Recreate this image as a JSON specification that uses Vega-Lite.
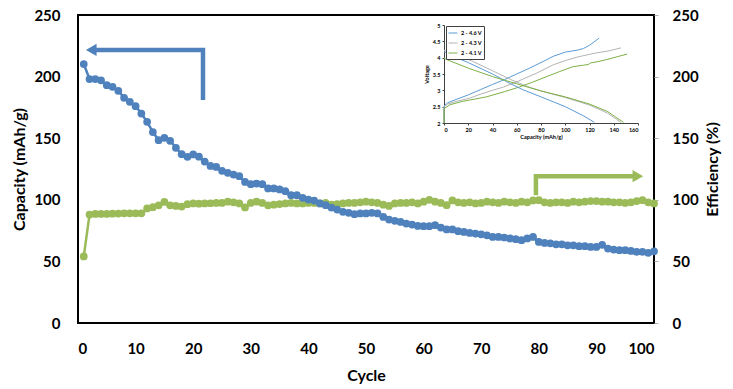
{
  "$schema": "https://vega.github.io/schema/vega-lite/v6.json",
  "width": 576,
  "height": 308,
  "autosize": {"type": "none"},
  "padding": {"left": 78, "top": 15, "right": 79, "bottom": 66},
  "background": "white",
  "config": {
    "view": {"stroke": "black", "strokeWidth": 2},
    "font": "Lato",
    "axis": {"grid": false, "labelColor": "black", "titleColor": "black", "labelFont": "Lato", "titleFont": "Lato", "labelFontWeight": "bold", "titleFontWeight": "bold"}
  },
  "datasets": {
    "cycling": [
      {"cycle": 1, "capacity": 210.2, "efficiency": 54},
      {"cycle": 2, "capacity": 198, "efficiency": 88},
      {"cycle": 3, "capacity": 198, "efficiency": 88.5},
      {"cycle": 4, "capacity": 197, "efficiency": 88.5},
      {"cycle": 5, "capacity": 193, "efficiency": 88.5},
      {"cycle": 6, "capacity": 191.7, "efficiency": 88.7},
      {"cycle": 7, "capacity": 188.5, "efficiency": 88.8},
      {"cycle": 8, "capacity": 182.8, "efficiency": 89},
      {"cycle": 9, "capacity": 179.5, "efficiency": 89},
      {"cycle": 10, "capacity": 176, "efficiency": 89},
      {"cycle": 11, "capacity": 170, "efficiency": 89},
      {"cycle": 12, "capacity": 163.3, "efficiency": 93},
      {"cycle": 13, "capacity": 155, "efficiency": 94},
      {"cycle": 14, "capacity": 148.4, "efficiency": 95.5},
      {"cycle": 15, "capacity": 150.3, "efficiency": 98.3},
      {"cycle": 16, "capacity": 147.9, "efficiency": 95.5},
      {"cycle": 17, "capacity": 142.2, "efficiency": 95},
      {"cycle": 18, "capacity": 137, "efficiency": 94.5},
      {"cycle": 19, "capacity": 134.9, "efficiency": 96.4},
      {"cycle": 20, "capacity": 136.8, "efficiency": 97},
      {"cycle": 21, "capacity": 135, "efficiency": 96.8},
      {"cycle": 22, "capacity": 131, "efficiency": 97},
      {"cycle": 23, "capacity": 127.5, "efficiency": 97.2},
      {"cycle": 24, "capacity": 126.7, "efficiency": 97.5},
      {"cycle": 25, "capacity": 123.5, "efficiency": 97.5},
      {"cycle": 26, "capacity": 121.9, "efficiency": 98.5},
      {"cycle": 27, "capacity": 120.5, "efficiency": 98},
      {"cycle": 28, "capacity": 119.2, "efficiency": 97},
      {"cycle": 29, "capacity": 114.5, "efficiency": 93.8},
      {"cycle": 30, "capacity": 112.7, "efficiency": 97.5},
      {"cycle": 31, "capacity": 113.2, "efficiency": 98.5},
      {"cycle": 32, "capacity": 112.7, "efficiency": 97.5},
      {"cycle": 33, "capacity": 109.2, "efficiency": 95.5},
      {"cycle": 34, "capacity": 109.2, "efficiency": 96},
      {"cycle": 35, "capacity": 108.4, "efficiency": 96.5},
      {"cycle": 36, "capacity": 107, "efficiency": 97},
      {"cycle": 37, "capacity": 103.7, "efficiency": 97.5},
      {"cycle": 38, "capacity": 103.7, "efficiency": 97},
      {"cycle": 39, "capacity": 101.6, "efficiency": 97},
      {"cycle": 40, "capacity": 100.2, "efficiency": 97.5},
      {"cycle": 41, "capacity": 99.4, "efficiency": 97.5},
      {"cycle": 42, "capacity": 97, "efficiency": 97},
      {"cycle": 43, "capacity": 95.6, "efficiency": 97.5},
      {"cycle": 44, "capacity": 93.7, "efficiency": 96},
      {"cycle": 45, "capacity": 92.1, "efficiency": 96.5},
      {"cycle": 46, "capacity": 90.2, "efficiency": 97},
      {"cycle": 47, "capacity": 89.4, "efficiency": 97.5},
      {"cycle": 48, "capacity": 88.3, "efficiency": 97.5},
      {"cycle": 49, "capacity": 88.9, "efficiency": 98},
      {"cycle": 50, "capacity": 88.9, "efficiency": 98.5},
      {"cycle": 51, "capacity": 89.4, "efficiency": 98},
      {"cycle": 52, "capacity": 88.9, "efficiency": 97.5},
      {"cycle": 53, "capacity": 86.1, "efficiency": 96},
      {"cycle": 54, "capacity": 84, "efficiency": 95},
      {"cycle": 55, "capacity": 82.9, "efficiency": 97},
      {"cycle": 56, "capacity": 82, "efficiency": 97.5},
      {"cycle": 57, "capacity": 80.7, "efficiency": 97.5},
      {"cycle": 58, "capacity": 79.9, "efficiency": 98},
      {"cycle": 59, "capacity": 78.8, "efficiency": 97},
      {"cycle": 60, "capacity": 78.6, "efficiency": 98.5},
      {"cycle": 61, "capacity": 78.6, "efficiency": 100},
      {"cycle": 62, "capacity": 79.4, "efficiency": 98.5},
      {"cycle": 63, "capacity": 77.5, "efficiency": 97.5},
      {"cycle": 64, "capacity": 75.9, "efficiency": 95.6},
      {"cycle": 65, "capacity": 75.9, "efficiency": 99.5},
      {"cycle": 66, "capacity": 74.5, "efficiency": 98},
      {"cycle": 67, "capacity": 73.9, "efficiency": 97.5},
      {"cycle": 68, "capacity": 73.1, "efficiency": 98},
      {"cycle": 69, "capacity": 72.6, "efficiency": 97},
      {"cycle": 70, "capacity": 72, "efficiency": 97.5},
      {"cycle": 71, "capacity": 71.2, "efficiency": 98.5},
      {"cycle": 72, "capacity": 69.9, "efficiency": 98},
      {"cycle": 73, "capacity": 69.9, "efficiency": 97.5},
      {"cycle": 74, "capacity": 69.4, "efficiency": 98.5},
      {"cycle": 75, "capacity": 68.6, "efficiency": 98},
      {"cycle": 76, "capacity": 68, "efficiency": 97.5},
      {"cycle": 77, "capacity": 67.2, "efficiency": 98.5},
      {"cycle": 78, "capacity": 68.6, "efficiency": 98},
      {"cycle": 79, "capacity": 69.9, "efficiency": 99.5},
      {"cycle": 80, "capacity": 65.8, "efficiency": 99.7},
      {"cycle": 81, "capacity": 65, "efficiency": 98},
      {"cycle": 82, "capacity": 64.7, "efficiency": 97.5},
      {"cycle": 83, "capacity": 63.9, "efficiency": 98},
      {"cycle": 84, "capacity": 63.9, "efficiency": 98},
      {"cycle": 85, "capacity": 63.1, "efficiency": 97.5},
      {"cycle": 86, "capacity": 63.1, "efficiency": 98.5},
      {"cycle": 87, "capacity": 62.3, "efficiency": 98},
      {"cycle": 88, "capacity": 62.3, "efficiency": 98.5},
      {"cycle": 89, "capacity": 61.7, "efficiency": 99},
      {"cycle": 90, "capacity": 61.7, "efficiency": 99},
      {"cycle": 91, "capacity": 63.5, "efficiency": 98.5},
      {"cycle": 92, "capacity": 60.4, "efficiency": 98.5},
      {"cycle": 93, "capacity": 59.6, "efficiency": 98},
      {"cycle": 94, "capacity": 59.1, "efficiency": 98},
      {"cycle": 95, "capacity": 59.1, "efficiency": 97.5},
      {"cycle": 96, "capacity": 58.5, "efficiency": 98},
      {"cycle": 97, "capacity": 57.7, "efficiency": 99},
      {"cycle": 98, "capacity": 57.7, "efficiency": 99.7},
      {"cycle": 99, "capacity": 56.9, "efficiency": 98},
      {"cycle": 100, "capacity": 58.2, "efficiency": 97}
    ],
    "arrows": [
      {"arrow": "capacity", "step": 1, "cycle": 21.7, "value": 181},
      {"arrow": "capacity", "step": 2, "cycle": 21.7, "value": 221.6},
      {"arrow": "capacity", "step": 3, "cycle": 2.4, "value": 221.6},
      {"arrow": "efficiency", "step": 1, "cycle": 79.5, "value": 103.7},
      {"arrow": "efficiency", "step": 2, "cycle": 79.5, "value": 119.2},
      {"arrow": "efficiency", "step": 3, "cycle": 97.1, "value": 119.2}
    ],
    "heads": [
      {"arrow": "capacity", "cycle": 2.3, "value": 221.6, "shape": "triangle-left"},
      {"arrow": "efficiency", "cycle": 97.2, "value": 119.2, "shape": "triangle-right"}
    ],
    "voltage": [
      {"curve": "c46", "cutoff": "2 - 4.6 V", "step": 0, "cap": 0, "v": 2.0},
      {"curve": "c46", "cutoff": "2 - 4.6 V", "step": 1, "cap": 0, "v": 2.52},
      {"curve": "c46", "cutoff": "2 - 4.6 V", "step": 2, "cap": 3, "v": 2.62},
      {"curve": "c46", "cutoff": "2 - 4.6 V", "step": 3, "cap": 10, "v": 2.72},
      {"curve": "c46", "cutoff": "2 - 4.6 V", "step": 4, "cap": 20, "v": 2.86},
      {"curve": "c46", "cutoff": "2 - 4.6 V", "step": 5, "cap": 30, "v": 3.02},
      {"curve": "c46", "cutoff": "2 - 4.6 V", "step": 6, "cap": 40, "v": 3.18},
      {"curve": "c46", "cutoff": "2 - 4.6 V", "step": 7, "cap": 50, "v": 3.33},
      {"curve": "c46", "cutoff": "2 - 4.6 V", "step": 8, "cap": 60, "v": 3.5},
      {"curve": "c46", "cutoff": "2 - 4.6 V", "step": 9, "cap": 70, "v": 3.67},
      {"curve": "c46", "cutoff": "2 - 4.6 V", "step": 10, "cap": 80, "v": 3.85},
      {"curve": "c46", "cutoff": "2 - 4.6 V", "step": 11, "cap": 90, "v": 4.04},
      {"curve": "c46", "cutoff": "2 - 4.6 V", "step": 12, "cap": 100, "v": 4.17},
      {"curve": "c46", "cutoff": "2 - 4.6 V", "step": 13, "cap": 110, "v": 4.23},
      {"curve": "c46", "cutoff": "2 - 4.6 V", "step": 14, "cap": 115, "v": 4.28},
      {"curve": "c46", "cutoff": "2 - 4.6 V", "step": 15, "cap": 120, "v": 4.38},
      {"curve": "c46", "cutoff": "2 - 4.6 V", "step": 16, "cap": 128, "v": 4.6},
      {"curve": "c43", "cutoff": "2 - 4.3 V", "step": 0, "cap": 0, "v": 2.0},
      {"curve": "c43", "cutoff": "2 - 4.3 V", "step": 1, "cap": 0, "v": 2.49},
      {"curve": "c43", "cutoff": "2 - 4.3 V", "step": 2, "cap": 3, "v": 2.58},
      {"curve": "c43", "cutoff": "2 - 4.3 V", "step": 3, "cap": 10, "v": 2.66},
      {"curve": "c43", "cutoff": "2 - 4.3 V", "step": 4, "cap": 21, "v": 2.76},
      {"curve": "c43", "cutoff": "2 - 4.3 V", "step": 5, "cap": 30, "v": 2.88},
      {"curve": "c43", "cutoff": "2 - 4.3 V", "step": 6, "cap": 40, "v": 3.0},
      {"curve": "c43", "cutoff": "2 - 4.3 V", "step": 7, "cap": 49, "v": 3.1},
      {"curve": "c43", "cutoff": "2 - 4.3 V", "step": 8, "cap": 60, "v": 3.26},
      {"curve": "c43", "cutoff": "2 - 4.3 V", "step": 9, "cap": 76, "v": 3.52},
      {"curve": "c43", "cutoff": "2 - 4.3 V", "step": 10, "cap": 90, "v": 3.78},
      {"curve": "c43", "cutoff": "2 - 4.3 V", "step": 11, "cap": 101, "v": 3.92},
      {"curve": "c43", "cutoff": "2 - 4.3 V", "step": 12, "cap": 110, "v": 4.02},
      {"curve": "c43", "cutoff": "2 - 4.3 V", "step": 13, "cap": 126, "v": 4.15},
      {"curve": "c43", "cutoff": "2 - 4.3 V", "step": 14, "cap": 135, "v": 4.2},
      {"curve": "c43", "cutoff": "2 - 4.3 V", "step": 15, "cap": 146, "v": 4.3},
      {"curve": "c41", "cutoff": "2 - 4.1 V", "step": 0, "cap": 0, "v": 2.0},
      {"curve": "c41", "cutoff": "2 - 4.1 V", "step": 1, "cap": 0, "v": 2.44},
      {"curve": "c41", "cutoff": "2 - 4.1 V", "step": 2, "cap": 5, "v": 2.56},
      {"curve": "c41", "cutoff": "2 - 4.1 V", "step": 3, "cap": 15, "v": 2.66},
      {"curve": "c41", "cutoff": "2 - 4.1 V", "step": 4, "cap": 35, "v": 2.8},
      {"curve": "c41", "cutoff": "2 - 4.1 V", "step": 5, "cap": 50, "v": 2.96},
      {"curve": "c41", "cutoff": "2 - 4.1 V", "step": 6, "cap": 62, "v": 3.1},
      {"curve": "c41", "cutoff": "2 - 4.1 V", "step": 7, "cap": 73, "v": 3.25},
      {"curve": "c41", "cutoff": "2 - 4.1 V", "step": 8, "cap": 84, "v": 3.41},
      {"curve": "c41", "cutoff": "2 - 4.1 V", "step": 9, "cap": 95, "v": 3.57},
      {"curve": "c41", "cutoff": "2 - 4.1 V", "step": 10, "cap": 106, "v": 3.72},
      {"curve": "c41", "cutoff": "2 - 4.1 V", "step": 11, "cap": 115, "v": 3.77},
      {"curve": "c41", "cutoff": "2 - 4.1 V", "step": 12, "cap": 119, "v": 3.79},
      {"curve": "c41", "cutoff": "2 - 4.1 V", "step": 13, "cap": 121, "v": 3.84},
      {"curve": "c41", "cutoff": "2 - 4.1 V", "step": 14, "cap": 127, "v": 3.88},
      {"curve": "c41", "cutoff": "2 - 4.1 V", "step": 15, "cap": 133, "v": 3.93},
      {"curve": "c41", "cutoff": "2 - 4.1 V", "step": 16, "cap": 142, "v": 4.02},
      {"curve": "c41", "cutoff": "2 - 4.1 V", "step": 17, "cap": 151, "v": 4.11},
      {"curve": "d46", "cutoff": "2 - 4.6 V", "step": 0, "cap": 0, "v": 4.18},
      {"curve": "d46", "cutoff": "2 - 4.6 V", "step": 1, "cap": 5, "v": 4.08},
      {"curve": "d46", "cutoff": "2 - 4.6 V", "step": 2, "cap": 20, "v": 3.85},
      {"curve": "d46", "cutoff": "2 - 4.6 V", "step": 3, "cap": 40, "v": 3.5},
      {"curve": "d46", "cutoff": "2 - 4.6 V", "step": 4, "cap": 50, "v": 3.3},
      {"curve": "d46", "cutoff": "2 - 4.6 V", "step": 5, "cap": 55, "v": 3.2},
      {"curve": "d46", "cutoff": "2 - 4.6 V", "step": 6, "cap": 65, "v": 3.02},
      {"curve": "d46", "cutoff": "2 - 4.6 V", "step": 7, "cap": 80, "v": 2.8},
      {"curve": "d46", "cutoff": "2 - 4.6 V", "step": 8, "cap": 100, "v": 2.5},
      {"curve": "d46", "cutoff": "2 - 4.6 V", "step": 9, "cap": 115, "v": 2.22},
      {"curve": "d46", "cutoff": "2 - 4.6 V", "step": 10, "cap": 124, "v": 2.02},
      {"curve": "d43", "cutoff": "2 - 4.3 V", "step": 0, "cap": 0, "v": 4.23},
      {"curve": "d43", "cutoff": "2 - 4.3 V", "step": 1, "cap": 5, "v": 4.13},
      {"curve": "d43", "cutoff": "2 - 4.3 V", "step": 2, "cap": 20, "v": 3.95},
      {"curve": "d43", "cutoff": "2 - 4.3 V", "step": 3, "cap": 40, "v": 3.6},
      {"curve": "d43", "cutoff": "2 - 4.3 V", "step": 4, "cap": 55, "v": 3.33},
      {"curve": "d43", "cutoff": "2 - 4.3 V", "step": 5, "cap": 70, "v": 3.1},
      {"curve": "d43", "cutoff": "2 - 4.3 V", "step": 6, "cap": 85, "v": 2.93},
      {"curve": "d43", "cutoff": "2 - 4.3 V", "step": 7, "cap": 100, "v": 2.78},
      {"curve": "d43", "cutoff": "2 - 4.3 V", "step": 8, "cap": 120, "v": 2.55},
      {"curve": "d43", "cutoff": "2 - 4.3 V", "step": 9, "cap": 135, "v": 2.3},
      {"curve": "d43", "cutoff": "2 - 4.3 V", "step": 10, "cap": 146, "v": 2.02},
      {"curve": "d41", "cutoff": "2 - 4.1 V", "step": 0, "cap": 0, "v": 3.98},
      {"curve": "d41", "cutoff": "2 - 4.1 V", "step": 1, "cap": 5, "v": 3.9},
      {"curve": "d41", "cutoff": "2 - 4.1 V", "step": 2, "cap": 20, "v": 3.68},
      {"curve": "d41", "cutoff": "2 - 4.1 V", "step": 3, "cap": 40, "v": 3.42},
      {"curve": "d41", "cutoff": "2 - 4.1 V", "step": 4, "cap": 60, "v": 3.2},
      {"curve": "d41", "cutoff": "2 - 4.1 V", "step": 5, "cap": 80, "v": 2.98},
      {"curve": "d41", "cutoff": "2 - 4.1 V", "step": 6, "cap": 100, "v": 2.8},
      {"curve": "d41", "cutoff": "2 - 4.1 V", "step": 7, "cap": 120, "v": 2.58},
      {"curve": "d41", "cutoff": "2 - 4.1 V", "step": 8, "cap": 135, "v": 2.35},
      {"curve": "d41", "cutoff": "2 - 4.1 V", "step": 9, "cap": 148, "v": 2.02}
    ]
  },
  "layer": [
    {
      "data": {"name": "cycling"},
      "mark": {"type": "line", "color": "#9BBB59", "strokeWidth": 2.5, "point": {"filled": true, "size": 60, "color": "#9BBB59", "opacity": 1}},
      "encoding": {
        "x": {"field": "cycle", "type": "quantitative", "scale": {"domain": [0, 100], "nice": false}, "axis": null},
        "y": {"field": "efficiency", "type": "quantitative", "scale": {"domain": [0, 250], "nice": false},
          "axis": {"orient": "right", "title": "Efficiency (%)", "titleAngle": 270, "titleBaseline": "top", "values": [0, 50, 100, 150, 200, 250], "domain": false, "ticks": true, "tickSize": 4, "tickColor": "#b0b0b0", "labelPadding": 14, "labelFontSize": 15, "titleFontSize": 16, "titlePadding": 6}}
      }
    },
    {
      "data": {"name": "cycling"},
      "mark": {"type": "line", "color": "#4F81BD", "strokeWidth": 2.5, "point": {"filled": true, "size": 60, "color": "#4F81BD", "opacity": 1}},
      "encoding": {
        "x": {"field": "cycle", "type": "quantitative", "scale": {"domain": [0, 100], "nice": false},
          "axis": {"title": "Cycle", "values": [0, 10, 20, 30, 40, 50, 60, 70, 80, 90, 100], "domain": false, "ticks": false, "labelPadding": 18, "labelFontSize": 15, "titleFontSize": 16, "titlePadding": 11}},
        "y": {"field": "capacity", "type": "quantitative", "scale": {"domain": [0, 250], "nice": false},
          "axis": {"orient": "left", "title": "Capacity (mAh/g)", "values": [0, 50, 100, 150, 200, 250], "domain": false, "ticks": false, "labelPadding": 18, "labelFontSize": 15, "titleFontSize": 16, "titlePadding": 6}}
      }
    },
    {
      "data": {"name": "arrows"},
      "mark": {"type": "line", "strokeWidth": 4.5, "strokeCap": "butt", "strokeJoin": "miter"},
      "encoding": {
        "x": {"field": "cycle", "type": "quantitative", "scale": {"domain": [0, 100], "nice": false}, "axis": null},
        "y": {"field": "value", "type": "quantitative", "scale": {"domain": [0, 250], "nice": false}, "axis": null},
        "detail": {"field": "arrow"},
        "order": {"field": "step"},
        "color": {"field": "arrow", "type": "nominal", "scale": {"domain": ["capacity", "efficiency"], "range": ["#4F81BD", "#9BBB59"]}, "legend": null}
      }
    },
    {
      "data": {"name": "heads"},
      "mark": {"type": "point", "filled": true, "size": 150, "opacity": 1},
      "encoding": {
        "x": {"field": "cycle", "type": "quantitative", "scale": {"domain": [0, 100], "nice": false}, "axis": null},
        "y": {"field": "value", "type": "quantitative", "scale": {"domain": [0, 250], "nice": false}, "axis": null},
        "shape": {"field": "shape", "type": "nominal", "scale": null},
        "color": {"field": "arrow", "type": "nominal", "scale": {"domain": ["capacity", "efficiency"], "range": ["#4F81BD", "#9BBB59"]}, "legend": null}
      }
    },
    {
      "data": {"name": "voltage"},
      "mark": {"type": "line", "strokeWidth": 1, "clip": false},
      "encoding": {
        "x": {"field": "cap", "type": "quantitative", "scale": {"domain": [0, 160], "nice": false, "range": [366, 560]},
          "axis": {"orient": "bottom", "offset": -200, "title": "Capacity (mAh/g)", "values": [0, 20, 40, 60, 80, 100, 120, 140, 160], "domainColor": "#404040", "domainWidth": 1, "tickColor": "#404040", "tickSize": 2, "labelFontSize": 5.5, "labelPadding": 2, "titleFontSize": 5.5, "titlePadding": 2}},
        "y": {"field": "v", "type": "quantitative", "scale": {"domain": [2, 5], "nice": false, "zero": false, "range": [108, 10]},
          "axis": {"orient": "left", "offset": -366, "title": "Voltage", "values": [2, 2.5, 3, 3.5, 4, 4.5, 5], "format": ".1~f", "domainColor": "#404040", "domainWidth": 1, "tickColor": "#404040", "tickSize": 2, "labelFontSize": 5.5, "labelPadding": 2, "titleFontSize": 5.5, "titlePadding": 3}},
        "detail": {"field": "curve"},
        "order": {"field": "step"},
        "color": {"field": "cutoff", "type": "nominal", "scale": {"domain": ["2 - 4.6 V", "2 - 4.3 V", "2 - 4.1 V"], "range": ["#5B9BD5", "#B4B4B4", "#7DB044"]},
          "legend": {"title": null, "orient": "none", "legendX": 368, "legendY": 11, "symbolType": "stroke", "symbolSize": 80, "symbolStrokeWidth": 1, "labelFontSize": 5.5, "labelFontWeight": "bold", "labelFont": "Lato", "rowPadding": 1, "padding": 2, "strokeColor": "#404040", "fillColor": "white", "labelOffset": 3}}
      }
    }
  ],
  "resolve": {"scale": {"x": "independent", "y": "independent", "color": "independent"}}
}
